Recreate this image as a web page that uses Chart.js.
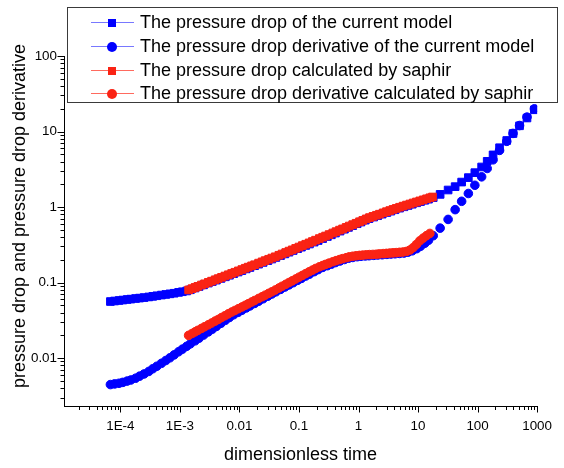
<!DOCTYPE html>
<html>
<head>
<meta charset="utf-8">
<title>pressure drop and derivative</title>
<script src="https://cdn.jsdelivr.net/npm/chart.js@4.4.1/dist/chart.umd.min.js"></script>
<style>
    html, body { margin: 0; padding: 0; background: #fff; }
    #wrap { position: relative; width: 564px; height: 468px; }
    #legend {
        position: absolute; left: 67px; top: 7px; width: 491px; height: 96px;
        box-sizing: border-box; border: 1px solid #3a3a3a; background: #fff;
        font-family: 'Liberation Sans', Arial, sans-serif; font-size: 18px; color: #000;
    }
    .lg-row { position: absolute; left: 0; height: 24px; line-height: 24px; white-space: nowrap; }
    .lg-sym { position: absolute; left: 23px; top: 12px; width: 43px; height: 0; }
    .lg-line { position: absolute; left: 0; top: 0; width: 43px; height: 1px; }
    .lg-mark { position: absolute; left: 17px; top: -3.5px; width: 8px; height: 8px; }
    .lg-mark.circle { border-radius: 50%; width: 10px; height: 10px; left: 16px; top: -4.5px; }
    .lg-text { position: absolute; left: 72px; top: 0; }
</style>
</head>
<body>
<div id="wrap">
    <canvas id="chart" width="564" height="468"></canvas>
    <div id="legend"></div>
</div>
<script>
(function () {
    'use strict';

    // axis text
    var X_TITLE = 'dimensionless time';
    var Y_TITLE = 'pressure drop and pressure drop derivative';
    var X_MAJOR = [1e-4, 1e-3, 0.01, 0.1, 1, 10, 100, 1000];
    var X_LABELS = ['1E-4', '1E-3', '0.01', '0.1', '1', '10', '100', '1000'];
    var Y_MAJOR = [0.01, 0.1, 1, 10, 100];
    var Y_LABELS = ['0.01', '0.1', '1', '10', '100'];
    var X_DECADES = [1e-5, 1e-4, 1e-3, 0.01, 0.1, 1, 10, 100];
    var Y_DECADES = [1e-3, 0.01, 0.1, 1, 10];
    var MINOR_STEPS = [2, 3, 4, 5, 6, 7, 8, 9];

    var SERIES_NAMES = [
        'The pressure drop of the current model',
        'The pressure drop derivative of the current model',
        'The pressure drop calculated by saphir',
        'The pressure drop derivative calculated by saphir'
    ];

    // current model: dimensionless time
    var T_MODEL = [6.8e-5, 8e-5, 9.5e-5,
        1.1e-4, 1.3e-4, 1.5e-4, 1.8e-4, 2.1e-4, 2.5e-4, 3e-4, 3.5e-4, 4.1e-4, 4.9e-4, 5.8e-4, 6.8e-4, 8e-4, 9.5e-4,
        1.1e-3, 1.3e-3, 1.5e-3, 1.8e-3, 2.1e-3, 2.5e-3, 3e-3, 3.5e-3, 4.1e-3, 4.9e-3, 5.8e-3, 6.8e-3, 8e-3, 9.5e-3,
        0.011, 0.013, 0.015, 0.018, 0.021, 0.025, 0.03, 0.035, 0.041, 0.049, 0.058, 0.068, 0.08, 0.095,
        0.11, 0.13, 0.15, 0.18, 0.21, 0.25, 0.3, 0.35, 0.41, 0.49, 0.58, 0.68, 0.8, 0.95,
        1.1, 1.3, 1.5, 1.8, 2.1, 2.5, 3, 3.5, 4.1, 4.9, 5.8, 6.8, 8, 9.5,
        11, 13, 15, 18, 23.5, 32, 42, 54, 70, 90, 117, 145, 182, 234, 309, 394, 507, 676, 900];
    // current model: pressure drop
    var P_MODEL = [0.0560, 0.0569, 0.0578,
        0.0586, 0.0596, 0.0603, 0.0614, 0.0622, 0.0632, 0.0644, 0.0656, 0.0668, 0.0682, 0.0695, 0.0708, 0.0721, 0.0740,
        0.0755, 0.0773, 0.0802, 0.0846, 0.0885, 0.0931, 0.0983, 0.1028, 0.1076, 0.1133, 0.119, 0.1248, 0.131, 0.1377,
        0.1439, 0.1514, 0.158, 0.167, 0.175, 0.1845, 0.195, 0.2046, 0.2148, 0.227, 0.2393, 0.2523, 0.2655, 0.2805,
        0.2938, 0.3097, 0.3236, 0.3428, 0.3597, 0.382, 0.4064, 0.4285, 0.4519, 0.4797, 0.5082, 0.537, 0.5675, 0.601,
        0.632, 0.67, 0.7015, 0.736, 0.767, 0.805, 0.845, 0.881, 0.920, 0.966, 1.007, 1.047, 1.089, 1.137,
        1.178, 1.227, 1.27, 1.33, 1.47, 1.68, 1.86, 2.14, 2.45, 2.85, 3.39, 4.03, 4.9, 6.1, 7.6, 9.4, 11.9, 15.1, 19.4];
    // current model: pressure drop derivative
    var D_MODEL = [0.00445, 0.00454, 0.00463,
        0.00476, 0.00495, 0.00512, 0.0054, 0.00575, 0.00615, 0.00664, 0.00721, 0.00778, 0.00851, 0.00927, 0.01007, 0.01101, 0.0121,
        0.0131, 0.01429, 0.01542, 0.0169, 0.01832, 0.02014, 0.02218, 0.0241, 0.02624, 0.02884, 0.03162, 0.03443, 0.03741, 0.04027,
        0.04285, 0.04603, 0.04898, 0.05284, 0.05649, 0.06095, 0.06592, 0.07047, 0.07534, 0.0811, 0.0871, 0.0931, 0.0995, 0.1069,
        0.1135, 0.1219, 0.1291, 0.1393, 0.1483, 0.1585, 0.1671, 0.175, 0.1837, 0.1928, 0.2018, 0.2099, 0.2148, 0.2198,
        0.2223, 0.2249, 0.2265, 0.2291, 0.2312, 0.2333, 0.236, 0.2382, 0.2404, 0.2427, 0.2455, 0.2523, 0.263, 0.2805,
        0.302, 0.331, 0.363, 0.417, 0.525, 0.685, 0.923, 1.19, 1.51, 1.94, 2.51, 3.24, 4.22, 5.62, 7.41, 9.44, 12.0, 15.5, 19.95];

    // saphir: dimensionless time
    var T_SAPHIR = [1.4e-3, 1.6e-3, 1.8e-3, 2.0e-3, 2.3e-3, 2.6e-3, 3.0e-3, 3.4e-3, 3.9e-3, 4.4e-3, 5.0e-3, 5.7e-3, 6.5e-3, 7.4e-3, 8.4e-3, 9.6e-3,
        0.011, 0.0125, 0.014, 0.016, 0.018, 0.021, 0.024, 0.027, 0.031, 0.035, 0.04, 0.046, 0.052, 0.06, 0.068, 0.077, 0.088,
        0.1, 0.114, 0.13, 0.148, 0.168, 0.19, 0.22, 0.25, 0.28, 0.32, 0.37, 0.42, 0.48, 0.54, 0.62, 0.7, 0.8, 0.91,
        1.04, 1.18, 1.35, 1.53, 1.75, 2.0, 2.25, 2.6, 2.95, 3.35, 3.8, 4.3, 4.9, 5.6, 6.4, 7.3, 8.3, 9.4,
        10.7, 12.2, 13.9, 15.8, 17.5];
    // saphir: pressure drop
    var P_SAPHIR = [0.0798, 0.0830, 0.0861, 0.0889, 0.0927, 0.0962, 0.1005, 0.1043, 0.1087, 0.1127, 0.1172, 0.1219, 0.1268, 0.1318, 0.1368, 0.1426,
        0.1486, 0.1545, 0.160, 0.1663, 0.1722, 0.1807, 0.1879, 0.195, 0.2032, 0.2109, 0.2193, 0.2296, 0.2388, 0.25, 0.2606, 0.271, 0.2831,
        0.2951, 0.3083, 0.3214, 0.335, 0.3491, 0.3639, 0.382, 0.398, 0.413, 0.4315, 0.4529, 0.472, 0.4943, 0.5129, 0.537, 0.5598, 0.5848, 0.6095,
        0.6383, 0.6653, 0.6966, 0.7244, 0.7516, 0.778, 0.8035, 0.8375, 0.867, 0.8974, 0.929, 0.9594, 0.9931, 1.028, 1.062, 1.096, 1.132, 1.167,
        1.205, 1.245, 1.285, 1.325, 1.358];
    // saphir: pressure drop derivative (no value at the last time)
    var D_SAPHIR = [0.01995, 0.02113, 0.02223, 0.02323, 0.02466, 0.02594, 0.02754, 0.02904, 0.03083, 0.03243, 0.03436, 0.03631, 0.03846, 0.04064, 0.04266, 0.04498,
        0.04742, 0.04989, 0.05224, 0.05521, 0.05781, 0.06152, 0.06486, 0.06792, 0.07178, 0.07534, 0.0796, 0.08453, 0.08913, 0.09462, 0.1, 0.1052, 0.1114,
        0.1175, 0.1242, 0.1312, 0.1387, 0.1459, 0.1535, 0.1614, 0.1679, 0.1738, 0.1807, 0.1884, 0.195, 0.2014, 0.207, 0.2133, 0.2188, 0.2228, 0.2259,
        0.2286, 0.2307, 0.2328, 0.2344, 0.2355, 0.2371, 0.2393, 0.2415, 0.2432, 0.2455, 0.2472, 0.2489, 0.2512, 0.2535, 0.2582, 0.2692, 0.2904, 0.3199,
        0.3565, 0.3873, 0.4178, 0.4467];

    var BLUE = '#0000ff';
    var RED = '#fa2314';
    var BLUE_LINE = '#7878ff';
    var RED_LINE = '#ff6a5e';
    var FONT = "'Liberation Sans', Arial, sans-serif";

    function pairs(times, values) {
        var out = [];
        for (var i = 0; i < values.length; i++) {
            out.push({ x: times[i], y: values[i] });
        }
        return out;
    }

    function minorTicks(decades, lo, hi) {
        var out = [];
        for (var d = 0; d < decades.length; d++) {
            for (var s = 0; s < MINOR_STEPS.length; s++) {
                var v = decades[d] * MINOR_STEPS[s];
                if (v > lo && v < hi) { out.push(v); }
            }
        }
        return out;
    }

    function series(label, data, color, lineColor, style, order) {
        return {
            label: label,
            data: data,
            showLine: false,
            pointStyle: style,
            pointRadius: style === 'rect' ? 5.4 : 4.3,
            pointBorderWidth: 1,
            pointBackgroundColor: color,
            pointBorderColor: color,
            borderColor: color,
            backgroundColor: color,
            order: order,
            _lineColor: lineColor
        };
    }

    var X_MIN = 1.13e-5, X_MAX = 1000, Y_MIN = 0.00228, Y_MAX = 100;
    var X_MINOR = minorTicks(X_DECADES, X_MIN, X_MAX);
    var Y_MINOR = minorTicks(Y_DECADES, Y_MIN, Y_MAX);

    // outward tick marks, long for decades, short in between
    var tickMarks = {
        id: 'tickMarks',
        afterDraw: function (chart) {
            var ctx = chart.ctx;
            var xs = chart.scales.x, ys = chart.scales.y;
            var area = chart.chartArea;
            ctx.save();
            ctx.strokeStyle = '#000';
            ctx.lineWidth = 1;
            ctx.beginPath();
            function xTick(v, len) {
                var p = Math.round(xs.getPixelForValue(v)) + 0.5;
                ctx.moveTo(p, area.bottom);
                ctx.lineTo(p, area.bottom + len);
            }
            function yTick(v, len) {
                var p = Math.round(ys.getPixelForValue(v)) + 0.5;
                ctx.moveTo(area.left, p);
                ctx.lineTo(area.left - len, p);
            }
            X_MAJOR.forEach(function (v) { xTick(v, 6); });
            X_MINOR.forEach(function (v) { xTick(v, 3.5); });
            Y_MAJOR.forEach(function (v) { yTick(v, 6.5); });
            Y_MINOR.forEach(function (v) { yTick(v, 3.5); });
            ctx.stroke();

            ctx.fillStyle = '#000';
            ctx.font = '18px ' + FONT;
            ctx.textAlign = 'center';
            ctx.textBaseline = 'middle';
            ctx.translate(20, 216);
            ctx.rotate(-Math.PI / 2);
            ctx.fillText(Y_TITLE, 0, 0);
            ctx.restore();
        }
    };

    var datasets = [
        series(SERIES_NAMES[0], pairs(T_MODEL, P_MODEL), BLUE, BLUE_LINE, 'rect', 2),
        series(SERIES_NAMES[1], pairs(T_MODEL, D_MODEL), BLUE, BLUE_LINE, 'circle', 3),
        series(SERIES_NAMES[2], pairs(T_SAPHIR, P_SAPHIR), RED, RED_LINE, 'rect', 0),
        series(SERIES_NAMES[3], pairs(T_SAPHIR, D_SAPHIR), RED, RED_LINE, 'circle', 1)
    ];

    function majorOnly(values) {
        return function (scale) {
            scale.ticks = values.map(function (v) { return { value: v, major: true }; });
        };
    }

    function labelFor(values, labels) {
        return function (value) {
            var i = values.indexOf(value);
            return i === -1 ? '' : labels[i];
        };
    }

    var chart = new Chart(document.getElementById('chart'), {
        type: 'scatter',
        data: { datasets: datasets },
        options: {
            responsive: false,
            devicePixelRatio: 1,
            animation: false,
            events: [],
            layout: { padding: { top: 56, right: 22.3, bottom: 0, left: 0 } },
            plugins: {
                legend: { display: false },
                tooltip: { enabled: false }
            },
            scales: {
                x: {
                    type: 'logarithmic',
                    min: X_MIN,
                    max: X_MAX,
                    afterBuildTicks: majorOnly(X_MAJOR),
                    afterFit: function (scale) { scale.height = 61.5; },
                    grid: { display: true, drawOnChartArea: false, drawTicks: false },
                    border: { display: true, color: '#000', width: 1 },
                    ticks: {
                        autoSkip: false,
                        maxRotation: 0,
                        padding: 12,
                        color: '#000',
                        font: { family: FONT, size: 13.4 },
                        callback: labelFor(X_MAJOR, X_LABELS)
                    },
                    title: {
                        display: true,
                        text: X_TITLE,
                        color: '#000',
                        font: { family: FONT, size: 18 },
                        padding: { top: 0, bottom: 2 }
                    }
                },
                y: {
                    type: 'logarithmic',
                    min: Y_MIN,
                    max: Y_MAX,
                    afterBuildTicks: majorOnly(Y_MAJOR),
                    afterFit: function (scale) { scale.width = 64; },
                    grid: { display: true, drawOnChartArea: false, drawTicks: false },
                    border: { display: true, color: '#000', width: 1 },
                    ticks: {
                        autoSkip: false,
                        padding: 7,
                        color: '#000',
                        font: { family: FONT, size: 13.4 },
                        callback: labelFor(Y_MAJOR, Y_LABELS)
                    }
                }
            }
        },
        plugins: [tickMarks]
    });

    // legend box drawn over the top of the plot, built from the datasets
    var legend = document.getElementById('legend');
    var rowTops = [2, 26, 50, 73];
    var order = [0, 1, 2, 3];
    order.forEach(function (k, i) {
        var ds = chart.data.datasets[k];
        var row = document.createElement('div');
        row.className = 'lg-row';
        row.style.top = rowTops[i] + 'px';
        var sym = document.createElement('span');
        sym.className = 'lg-sym';
        var ln = document.createElement('span');
        ln.className = 'lg-line';
        ln.style.background = ds._lineColor;
        var mk = document.createElement('span');
        mk.className = 'lg-mark' + (ds.pointStyle === 'circle' ? ' circle' : '');
        mk.style.background = ds.pointBackgroundColor;
        sym.appendChild(ln);
        sym.appendChild(mk);
        var txt = document.createElement('span');
        txt.className = 'lg-text';
        txt.textContent = ds.label;
        row.appendChild(sym);
        row.appendChild(txt);
        legend.appendChild(row);
    });
})();
</script>
</body>
</html>
